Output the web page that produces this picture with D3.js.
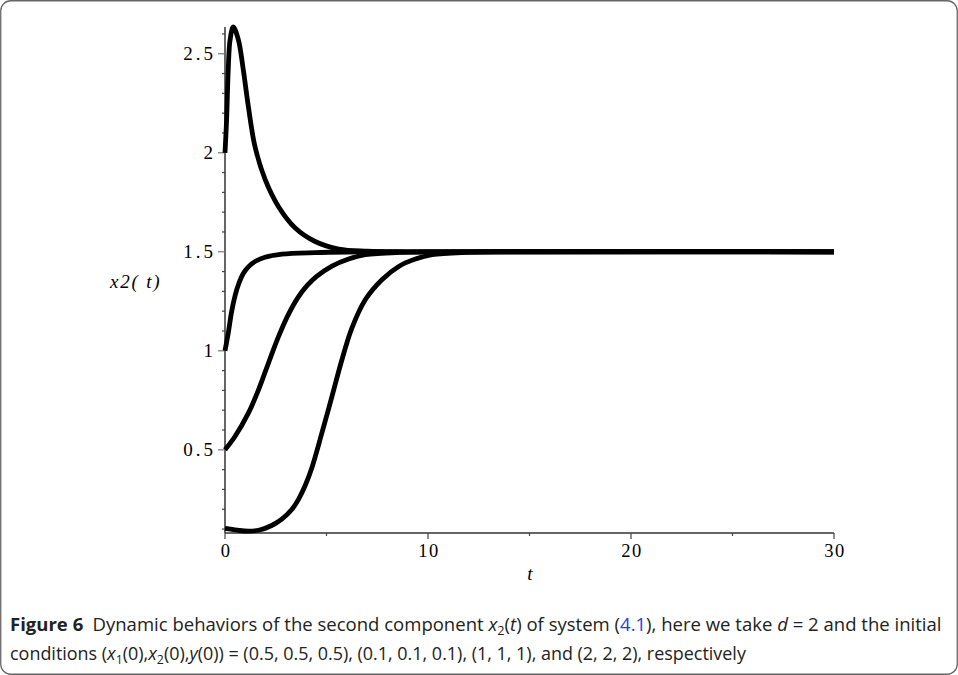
<!DOCTYPE html>
<html>
<head>
<meta charset="utf-8">
<script src="https://cdn.jsdelivr.net/npm/d3@7"></script>
<style>
  body { margin: 0; background: #fff; }
  svg { display: block; }
</style>
</head>
<body>
<div id="chart"></div>
<script>
// values: x2(t) for the four initial conditions
var tStart2 = [0, 0.08, 0.16, 0.25, 0.41, 0.66, 0.9, 1.15, 1.48, 1.98, 2.63, 3.46, 4.44, 5.6, 7, 9, 12, 30];
var vStart2 = [2.0, 2.17, 2.42, 2.57, 2.635, 2.57, 2.42, 2.234, 2.03, 1.864, 1.729, 1.62, 1.552, 1.514, 1.503, 1.5, 1.5, 1.5];

var tStart1 = [0, 0.16, 0.33, 0.5, 0.7, 0.9, 1.15, 1.5, 1.97, 2.8, 4.44, 6.1, 9, 30];
var vStart1 = [1.0, 1.089, 1.2, 1.28, 1.345, 1.39, 1.424, 1.452, 1.472, 1.488, 1.496, 1.499, 1.5, 1.5];

var tStart05 = [0, 0.49, 1.15, 1.65, 2.14, 2.63, 3.13, 3.6, 4.05, 4.5, 5.27, 6.09, 6.91, 8.6, 11, 30];
var vStart05 = [0.5, 0.567, 0.685, 0.803, 0.938, 1.07, 1.185, 1.27, 1.33, 1.375, 1.428, 1.464, 1.485, 1.497, 1.5, 1.5];

var tStart01 = [0, 0.6, 1.15, 1.7, 2.3, 2.8, 3.3, 3.62, 3.95, 4.28, 4.77, 5.27, 5.76, 6.25, 6.91, 7.73, 8.56, 9.38, 10.2, 11.9, 14, 30];
var vStart01 = [0.103, 0.094, 0.089, 0.095, 0.118, 0.15, 0.2, 0.25, 0.32, 0.41, 0.584, 0.77, 0.955, 1.115, 1.258, 1.359, 1.426, 1.463, 1.485, 1.497, 1.5, 1.5];

var xMajor = [0, 10, 20, 30];
var xMinor = [5, 15, 25];
var yMajor = [0.5, 1, 1.5, 2, 2.5];
var yMinor = [0.1, 0.2, 0.3, 0.4, 0.6, 0.7, 0.8, 0.9, 1.1, 1.2, 1.3, 1.4, 1.6, 1.7, 1.8, 1.9, 2.1, 2.2, 2.3, 2.4, 2.6];

var W = 958, H = 675;

var svg = d3.select("#chart").append("svg")
  .attr("width", W)
  .attr("height", H);

// frame round the figure
svg.append("rect")
  .attr("x", 0.75).attr("y", 0.75)
  .attr("width", W - 1.5).attr("height", H - 1.5)
  .attr("rx", 10).attr("ry", 10)
  .attr("fill", "none")
  .attr("stroke", "#666")
  .attr("stroke-width", 1.3);

var x = d3.scaleLinear().domain([0, 30]).range([225, 834]);
var y = d3.scaleLinear().domain([0.08, 2.635]).range([533, 27]);

var serif = "'Liberation Serif', 'DejaVu Serif', serif";

// x axis
var xAxis = svg.append("g").attr("transform", "translate(0," + y(0.08) + ")");
xAxis.append("line")
  .attr("x1", x(0)).attr("x2", x(30))
  .attr("stroke", "#333").attr("stroke-width", 1.5);
xAxis.selectAll(".major").data(xMajor).enter().append("line")
  .attr("x1", function(d) { return x(d); })
  .attr("x2", function(d) { return x(d); })
  .attr("y1", 0).attr("y2", 6)
  .attr("stroke", "#444").attr("stroke-width", 1.2);
xAxis.selectAll(".minor").data(xMinor).enter().append("line")
  .attr("x1", function(d) { return x(d); })
  .attr("x2", function(d) { return x(d); })
  .attr("y1", 0).attr("y2", 3)
  .attr("stroke", "#444").attr("stroke-width", 1.2);
xAxis.selectAll("text").data(xMajor).enter().append("text")
  .attr("x", function(d) { return x(d) + 1; })
  .attr("y", 24)
  .attr("text-anchor", "middle")
  .attr("font-family", serif)
  .attr("font-size", 18.5)
  .attr("letter-spacing", 1.5)
  .text(function(d) { return d; });

// y axis
var yAxis = svg.append("g").attr("transform", "translate(" + x(0) + ",0)");
yAxis.append("line")
  .attr("y1", y(0.08)).attr("y2", y(2.635))
  .attr("stroke", "#333").attr("stroke-width", 1.5);
yAxis.selectAll(".major").data(yMajor).enter().append("line")
  .attr("y1", function(d) { return y(d); })
  .attr("y2", function(d) { return y(d); })
  .attr("x1", -7).attr("x2", 0)
  .attr("stroke", "#777").attr("stroke-width", 1.2);
yAxis.selectAll(".minor").data(yMinor).enter().append("line")
  .attr("y1", function(d) { return y(d); })
  .attr("y2", function(d) { return y(d); })
  .attr("x1", -3).attr("x2", 0)
  .attr("stroke", "#444").attr("stroke-width", 1.2);
yAxis.selectAll("text").data(yMajor).enter().append("text")
  .attr("x", -9)
  .attr("y", function(d) { return y(d) + 6; })
  .attr("text-anchor", "end")
  .attr("font-family", serif)
  .attr("font-size", 19)
  .attr("letter-spacing", 3)
  .text(function(d) { return d; });

// axis titles
svg.append("text")
  .attr("x", 530).attr("y", 580)
  .attr("text-anchor", "middle")
  .attr("font-family", serif)
  .attr("font-style", "italic")
  .attr("font-size", 19)
  .text("t");

svg.append("text")
  .attr("x", 110).attr("y", 288)
  .attr("font-family", serif)
  .attr("font-style", "italic")
  .attr("font-size", 19)
  .attr("letter-spacing", 1.8)
  .text("x2( t)");

// the four solution curves
var series = [
  { t: tStart2, v: vStart2 },
  { t: tStart1, v: vStart1 },
  { t: tStart05, v: vStart05 },
  { t: tStart01, v: vStart01 }
];

var line = d3.line()
  .curve(d3.curveCatmullRom.alpha(0.5))
  .x(function(d) { return x(d[0]); })
  .y(function(d) { return y(d[1]); });

svg.selectAll(".curve").data(series).enter().append("path")
  .attr("class", "curve")
  .attr("d", function(s) {
    return line(s.t.map(function(tt, i) { return [tt, s.v[i]]; }));
  })
  .attr("fill", "none")
  .attr("stroke", "#000")
  .attr("stroke-width", 4.8)
  .attr("stroke-linejoin", "round");

// caption
var sans = "'Open Sans', 'Noto Sans', sans-serif";
var cap1 = svg.append("text")
  .attr("x", 10).attr("y", 631)
  .attr("font-family", sans)
  .attr("font-size", 17.5)
  .attr("fill", "#222");
cap1.append("tspan").attr("font-weight", "bold").text("Figure 6");
cap1.append("tspan").text("\u2002Dynamic behaviors of the second component ");
cap1.append("tspan").attr("font-style", "italic").text("x");
cap1.append("tspan").attr("font-size", 12).attr("dy", 4).text("2");
cap1.append("tspan").attr("dy", -4).text("(");
cap1.append("tspan").attr("font-style", "italic").text("t");
cap1.append("tspan").text(") of system (");
cap1.append("tspan").attr("fill", "#2a3fd6").text("4.1");
cap1.append("tspan").text("), here we take ");
cap1.append("tspan").attr("font-style", "italic").text("d");
cap1.append("tspan").text(" = 2 and the initial");

var cap2 = svg.append("text")
  .attr("x", 10).attr("y", 660)
  .attr("font-family", sans)
  .attr("font-size", 17.5)
  .attr("fill", "#222");
cap2.append("tspan").text("conditions (");
cap2.append("tspan").attr("font-style", "italic").text("x");
cap2.append("tspan").attr("font-size", 12).attr("dy", 4).text("1");
cap2.append("tspan").attr("dy", -4).text("(0),");
cap2.append("tspan").attr("font-style", "italic").text("x");
cap2.append("tspan").attr("font-size", 12).attr("dy", 4).text("2");
cap2.append("tspan").attr("dy", -4).text("(0),");
cap2.append("tspan").attr("font-style", "italic").text("y");
cap2.append("tspan").text("(0)) = (0.5, 0.5, 0.5), (0.1, 0.1, 0.1), (1, 1, 1), and (2, 2, 2), respectively");

// squeeze caption lines to the width they take in the figure
function fitWidth(sel, x0, target) {
  var w = sel.node().getComputedTextLength();
  var k = target / w;
  sel.attr("transform", "translate(" + x0 + ",0) scale(" + k + ",1) translate(" + (-x0) + ",0)");
}
fitWidth(cap1, 10, 932);
fitWidth(cap2, 10, 736);
</script>
</body>
</html>
